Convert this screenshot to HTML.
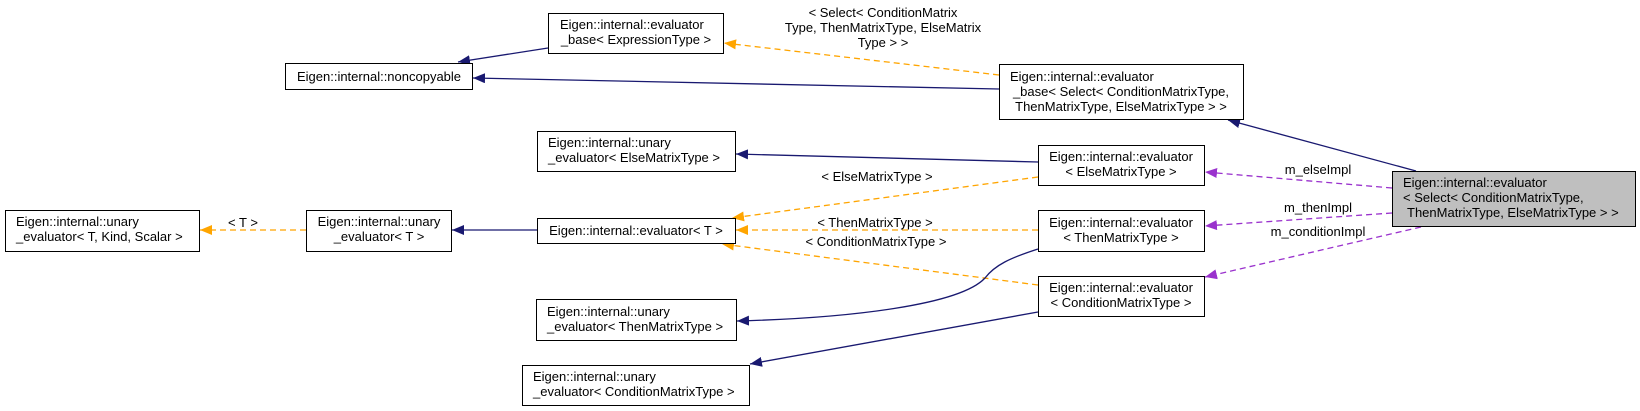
<!DOCTYPE html>
<html><head><meta charset="utf-8"><style>
html,body{margin:0;padding:0;background:#fff;}
svg{display:block;}
text{font-family:"Liberation Sans",sans-serif;font-size:13px;fill:#000;}
</style></head><body>
<svg width="1640" height="411" viewBox="0 0 1640 411" xmlns="http://www.w3.org/2000/svg">
<defs>
<marker id="an" markerUnits="userSpaceOnUse" markerWidth="14" markerHeight="12" refX="12" refY="5" orient="auto"><path d="M0,0 L12,5 L0,10 z" fill="#191970"/></marker>
<marker id="ao" markerUnits="userSpaceOnUse" markerWidth="14" markerHeight="12" refX="12" refY="5" orient="auto"><path d="M0,0 L12,5 L0,10 z" fill="#ffa500"/></marker>
<marker id="ap" markerUnits="userSpaceOnUse" markerWidth="14" markerHeight="12" refX="12" refY="5" orient="auto"><path d="M0,0 L12,5 L0,10 z" fill="#9a32cd"/></marker>
</defs>
<g fill="none" stroke-width="1.3">
<path d="M548,48 L458,62" stroke="#191970" marker-end="url(#an)"/>
<path d="M999,89 L473,78" stroke="#191970" marker-end="url(#an)"/>
<path d="M999,75 L724,43" stroke="#ffa500" stroke-dasharray="6,4" marker-end="url(#ao)"/>
<path d="M1416,171 L1228,120" stroke="#191970" marker-end="url(#an)"/>
<path d="M1038,162 L736,154" stroke="#191970" marker-end="url(#an)"/>
<path d="M537,230 L452,230" stroke="#191970" marker-end="url(#an)"/>
<path d="M306,230 L200,230" stroke="#ffa500" stroke-dasharray="6,4" marker-end="url(#ao)"/>
<path d="M1038,177 L732,218" stroke="#ffa500" stroke-dasharray="6,4" marker-end="url(#ao)"/>
<path d="M1038,230 L736,230" stroke="#ffa500" stroke-dasharray="6,4" marker-end="url(#ao)"/>
<path d="M1038,285 L722,244" stroke="#ffa500" stroke-dasharray="6,4" marker-end="url(#ao)"/>
<path d="M1038,249 C1010,258 995,265 985,278 C960,305 850,318 737,321" stroke="#191970" marker-end="url(#an)"/>
<path d="M1038,312 L750,364" stroke="#191970" marker-end="url(#an)"/>
<path d="M1392,188 L1205,172" stroke="#9a32cd" stroke-dasharray="6,4" marker-end="url(#ap)"/>
<path d="M1392,213 L1205,226" stroke="#9a32cd" stroke-dasharray="6,4" marker-end="url(#ap)"/>
<path d="M1421,227 L1205,277" stroke="#9a32cd" stroke-dasharray="6,4" marker-end="url(#ap)"/>
</g>
<g stroke="#000" stroke-width="1" fill="#fff">
<rect x="548.5" y="13.5" width="175" height="40"/>
<rect x="285.5" y="63.5" width="187" height="26"/>
<rect x="537.5" y="131.5" width="198" height="40"/>
<rect x="5.5" y="210.5" width="194" height="41"/>
<rect x="306.5" y="210.5" width="145" height="41"/>
<rect x="537.5" y="218.5" width="198" height="25"/>
<rect x="536.5" y="299.5" width="200" height="41"/>
<rect x="522.5" y="365.5" width="227" height="40"/>
<rect x="999.5" y="64.5" width="244" height="55"/>
<rect x="1038.5" y="145.5" width="166" height="40"/>
<rect x="1038.5" y="210.5" width="166" height="41"/>
<rect x="1038.5" y="276.5" width="166" height="40"/>
<rect x="1392.5" y="171.5" width="243" height="55" fill="#bfbfbf"/>
</g>
<g>
<text x="560" y="29">Eigen::internal::evaluator</text>
<text x="636" y="44" text-anchor="middle">_base&lt; ExpressionType &gt;</text>
<text x="379" y="81" text-anchor="middle">Eigen::internal::noncopyable</text>
<text x="548" y="147">Eigen::internal::unary</text>
<text x="548" y="162">_evaluator&lt; ElseMatrixType &gt;</text>
<text x="16" y="226">Eigen::internal::unary</text>
<text x="16" y="241">_evaluator&lt; T, Kind, Scalar &gt;</text>
<text x="379" y="226" text-anchor="middle">Eigen::internal::unary</text>
<text x="379" y="241" text-anchor="middle">_evaluator&lt; T &gt;</text>
<text x="636" y="235" text-anchor="middle">Eigen::internal::evaluator&lt; T &gt;</text>
<text x="547" y="316">Eigen::internal::unary</text>
<text x="547" y="331">_evaluator&lt; ThenMatrixType &gt;</text>
<text x="533" y="381">Eigen::internal::unary</text>
<text x="533" y="396">_evaluator&lt; ConditionMatrixType &gt;</text>
<text x="1010" y="81">Eigen::internal::evaluator</text>
<text x="1121" y="96" text-anchor="middle">_base&lt; Select&lt; ConditionMatrixType,</text>
<text x="1121" y="111" text-anchor="middle">ThenMatrixType, ElseMatrixType &gt; &gt;</text>
<text x="1121" y="161" text-anchor="middle">Eigen::internal::evaluator</text>
<text x="1121" y="176" text-anchor="middle">&lt; ElseMatrixType &gt;</text>
<text x="1121" y="227" text-anchor="middle">Eigen::internal::evaluator</text>
<text x="1121" y="242" text-anchor="middle">&lt; ThenMatrixType &gt;</text>
<text x="1121" y="292" text-anchor="middle">Eigen::internal::evaluator</text>
<text x="1121" y="307" text-anchor="middle">&lt; ConditionMatrixType &gt;</text>
<text x="1403" y="187">Eigen::internal::evaluator</text>
<text x="1403" y="202">&lt; Select&lt; ConditionMatrixType,</text>
<text x="1407" y="217">ThenMatrixType, ElseMatrixType &gt; &gt;</text>
<text x="883" y="17" text-anchor="middle">&lt; Select&lt; ConditionMatrix</text>
<text x="883" y="32" text-anchor="middle">Type, ThenMatrixType, ElseMatrix</text>
<text x="883" y="47" text-anchor="middle">Type &gt; &gt;</text>
<text x="877" y="181" text-anchor="middle">&lt; ElseMatrixType &gt;</text>
<text x="875" y="227" text-anchor="middle">&lt; ThenMatrixType &gt;</text>
<text x="876" y="246" text-anchor="middle">&lt; ConditionMatrixType &gt;</text>
<text x="243" y="227" text-anchor="middle">&lt; T &gt;</text>
<text x="1318" y="174" text-anchor="middle">m_elseImpl</text>
<text x="1318" y="212" text-anchor="middle">m_thenImpl</text>
<text x="1318" y="236" text-anchor="middle">m_conditionImpl</text>
</g>
</svg>
</body></html>
